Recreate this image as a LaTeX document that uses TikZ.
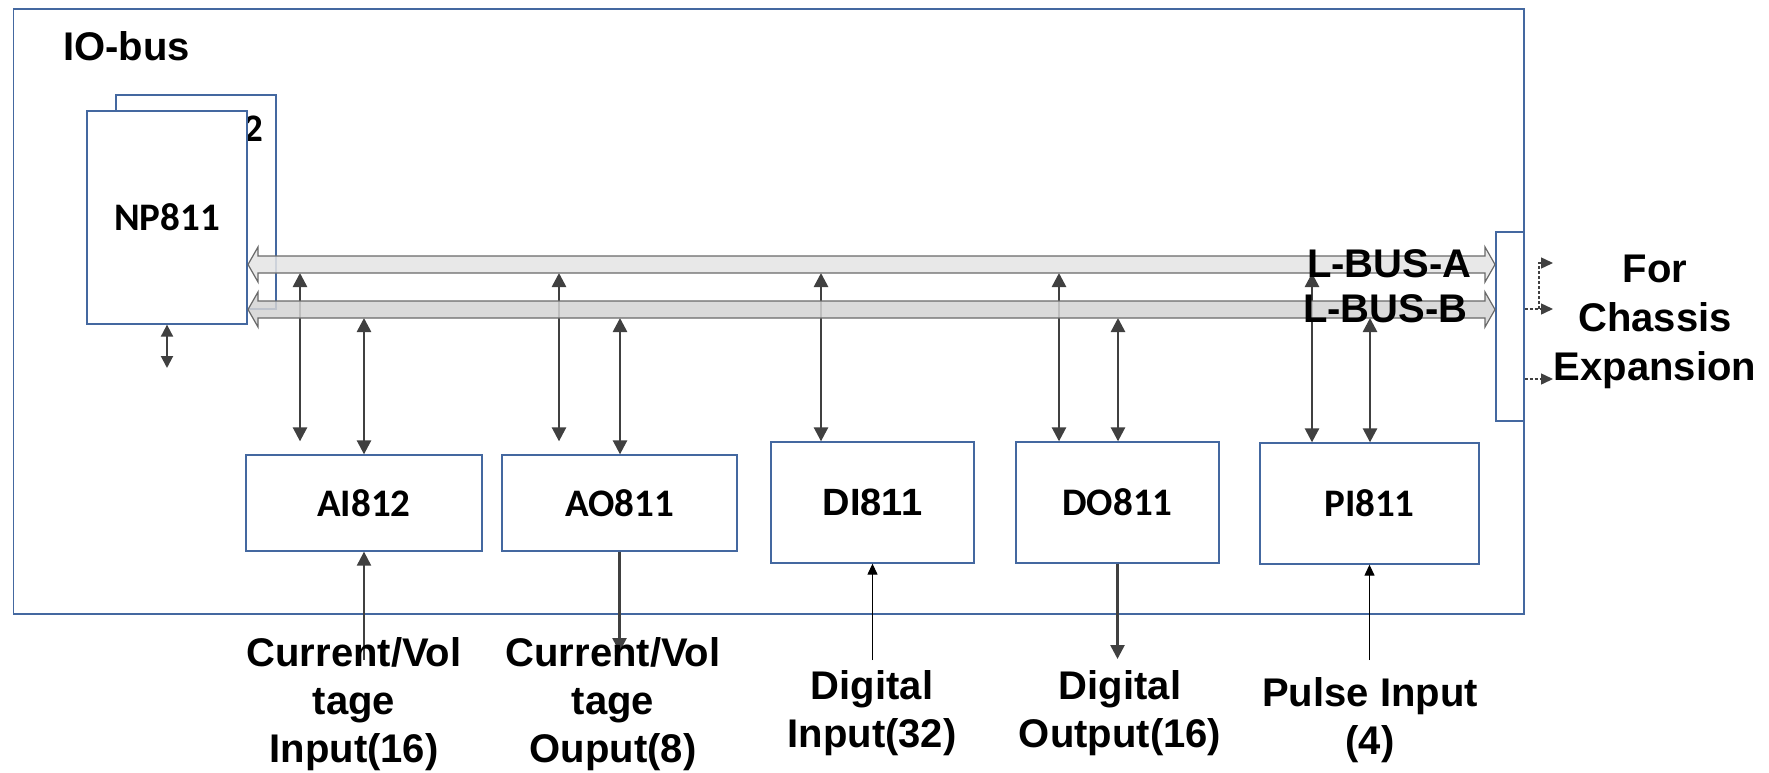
\documentclass[tikz,border=0pt]{standalone}
\usepackage{fontspec}
\setmainfont{Liberation Sans}
\newfontfamily\carlito{Carlito}
\usetikzlibrary{arrows.meta,calc}
\definecolor{boxblue}{RGB}{68,104,160}
\definecolor{agray}{RGB}{64,64,64}
\definecolor{busAfill}{RGB}{229,229,229}
\definecolor{busBfill}{RGB}{212,212,212}
\definecolor{busline}{RGB}{105,105,105}
\tikzset{
  frame/.style={draw=boxblue, line width=1.3pt, inner sep=0pt},
  modbox/.style={frame, fill=white},
  busarr/.style={draw=agray, line width=2.6pt, -{Triangle[length=14pt,width=14pt]}},
  busdbl/.style={draw=agray, line width=2.6pt, {Triangle[length=14pt,width=14pt]}-{Triangle[length=14pt,width=14pt]}},
  thinarr/.style={draw=black, line width=1.2pt, -{Triangle[length=11pt,width=10pt]}},
  dasharr/.style={draw=agray, line width=1.4pt, dash pattern=on 3pt off 2pt, -{Triangle[length=12pt,width=11pt]}},
  bus/.style={draw=busline, line width=1.2pt, fill opacity=0.85},
  arialtxt/.style={font=\fontsize{40}{48}\selectfont\bfseries, inner sep=0pt},
  calitxt/.style={font=\carlito\fontsize{39}{47}\selectfont\bfseries, inner sep=0pt},
  lbl/.style={arialtxt, align=center, anchor=north},
}
\begin{document}
\begin{tikzpicture}[x=1pt,y=-1pt]
\useasboundingbox (0,0) rectangle (1769,773);
\fill[white] (0,0) rectangle (1769,773);

% outer frame
\node[frame, minimum width=1510.5, minimum height=605] (io) at (768.75,311.5) {};
\node[arialtxt, anchor=base west] (iolbl) at (63,61) {IO-bus};

% NP boxes
\node[frame, minimum width=160, minimum height=214] (np2) at (196,202) {};
\node[calitxt, anchor=base east] (np2n) at (263,142) {2};
\node[modbox, calitxt, minimum width=160, minimum height=213] (np1) at (167,217.5) {NP811};
\coordinate (npd) at (167,368);
\draw[draw=agray, line width=2pt, {Triangle[length=12pt,width=12pt]}-{Triangle[length=12pt,width=12pt]}] (np1.south) -- (npd);

% modules
\node[modbox, calitxt, minimum width=236, minimum height=96] (ai) at (364,503) {AI812};
\node[modbox, calitxt, minimum width=235, minimum height=96] (ao) at (619.5,503) {AO811};
\node[modbox, arialtxt, font=\fontsize{38}{46}\selectfont\bfseries, minimum width=203, minimum height=121] (di) at (872.5,502.5) {DI811};
\node[modbox, calitxt, minimum width=203, minimum height=121] (do) at (1117.5,502.5) {DO811};
\node[modbox, calitxt, minimum width=219, minimum height=121] (pi) at (1369.5,503.5) {PI811};
\node[frame, minimum width=28, minimum height=189] (exp) at (1510,326.5) {};

% bus attachment points
\coordinate (aiA) at (300,273);  \coordinate (aiB) at (364,318);
\coordinate (aoA) at (559,273);  \coordinate (aoB) at (620,318);
\coordinate (diA) at (821,273);
\coordinate (doA) at (1059,273); \coordinate (doB) at (1118,318);
\coordinate (piA) at (1312,273); \coordinate (piB) at (1370,318);

% vertical bus connectors
\draw[busdbl] (aiA) -- ($(aiA |- ai.north)+(0,-13)$);
\draw[busdbl] (aiB) -- (aiB |- ai.north);
\draw[busdbl] (aoA) -- ($(aoA |- ao.north)+(0,-13)$);
\draw[busdbl] (aoB) -- (aoB |- ao.north);
\draw[busdbl] (diA) -- (diA |- di.north);
\draw[busdbl] (doA) -- (doA |- do.north);
\draw[busdbl] (doB) -- (doB |- do.north);
\draw[busdbl] (piA) -- (piA |- pi.north);
\draw[busdbl] (piB) -- (piB |- pi.north);

% buses
\draw[bus, fill=busAfill] (248,264.5) -- (258,247) -- (258,256) -- (1485,256) -- (1485,247) -- (1495,264.5)
  -- (1485,282) -- (1485,273) -- (258,273) -- (258,282) -- cycle;
\draw[bus, fill=busBfill] (248,309.5) -- (258,292) -- (258,301) -- (1485,301) -- (1485,292) -- (1495,309.5)
  -- (1485,327) -- (1485,318) -- (258,318) -- (258,327) -- cycle;
\node[arialtxt, anchor=base west] (lbusa) at (1307,277) {L-BUS-A};
\node[arialtxt, anchor=base west] (lbusb) at (1303,322) {L-BUS-B};

% expansion arrows
\coordinate (eB) at (exp.east |- 0,309);
\coordinate (jB) at (1539,309);
\coordinate (tB) at (1553,309);
\coordinate (tA) at (1553,263);
\coordinate (eC) at (exp.east |- 0,379);
\coordinate (tC) at (1553,379);
\draw[dasharr] (eB) -- (tB);
\draw[dasharr] (jB) |- (tA);
\draw[dasharr] (eC) -- (tC);
\node[lbl, font=\fontsize{40}{49}\selectfont\bfseries] (fce) at (1655,255) {For\\Chassis\\Expansion};

% field signals
\coordinate (aiIn) at (364,660);
\coordinate (aoOut) at (619.5,652);
\coordinate (diIn) at (872.5,660);
\coordinate (doOut) at (1117.5,659);
\coordinate (piIn) at (1369.5,660);
\draw[busarr, line width=2.2pt] (aiIn) -- (ai.south);
\draw[busarr] (ao.south) -- (aoOut);
\draw[thinarr] (diIn) -- (di.south);
\draw[busarr] (do.south) -- (doOut);
\draw[thinarr] (piIn) -- (pi.south);

\node[lbl] (lai) at (354,637) {Current/Vol\\tage\\Input(16)};
\node[lbl] (lao) at (613,637) {Current/Vol\\tage\\Ouput(8)};
\node[lbl] (ldi) at (872,670) {Digital\\Input(32)};
\node[lbl] (ldo) at (1120,670) {Digital\\Output(16)};
\node[lbl] (lpi) at (1370,677) {Pulse Input\\(4)};
\end{tikzpicture}
\end{document}
